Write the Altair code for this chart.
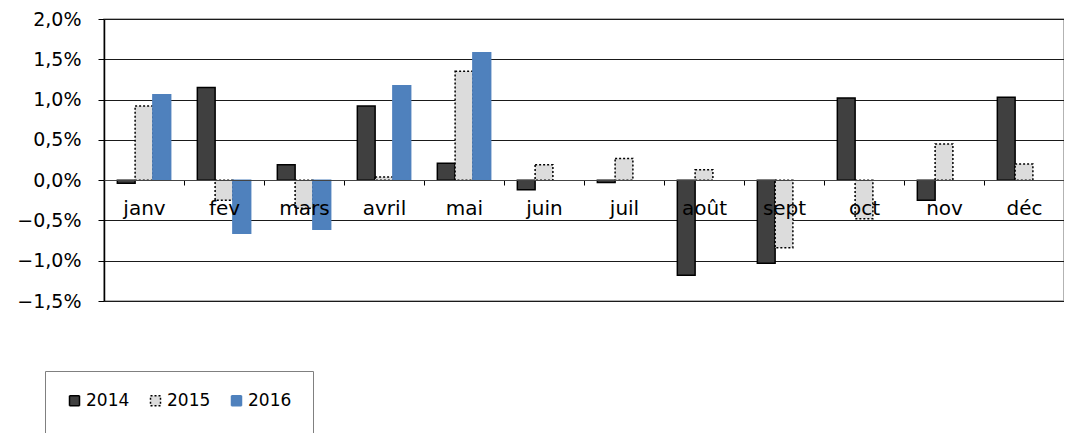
import altair as alt
import pandas as pd

months = ["janv", "fev", "mars", "avril", "mai", "juin", "juil", "août", "sept", "oct", "nov", "déc"]
years = ["2014", "2015", "2016"]
v2014 = [-0.04, 1.15, 0.19, 0.92, 0.21, -0.12, -0.03, -1.18, -1.03, 1.02, -0.25, 1.03]
v2015 = [0.92, -0.25, -0.35, 0.04, 1.35, 0.19, 0.27, 0.13, -0.84, -0.48, 0.45, 0.20]
v2016 = [1.06, -0.66, -0.61, 1.17, 1.58]
y_ticks = [-1.5, -1.0, -0.5, 0.0, 0.5, 1.0, 1.5, 2.0]

rows = []
for series, vals in zip(years, [v2014, v2015, v2016]):
    for m, v in zip(months, vals):
        rows.append({"month": m, "year": series, "value": v})
df = pd.DataFrame(rows)

FONT = "DejaVu Sans"

chart = alt.Chart(df).mark_bar(strokeWidth=1.5).encode(
    x=alt.X(
        "month:N",
        sort=months,
        scale=alt.Scale(domain=months, paddingInner=0, paddingOuter=0),
        axis=alt.Axis(
            title=None,
            offset=-121,
            tickBand="extent",
            tickSize=5,
            tickColor="#000",
            domainColor="#444",
            labelFont=FONT,
            labelFontSize=20,
            labelColor="#000",
            labelPadding=13,
            labelAngle=0,
            grid=False,
            zindex=1,
        ),
    ),
    xOffset=alt.XOffset("year:N", scale=alt.Scale(domain=years, paddingOuter=0.75, paddingInner=0)),
    y=alt.Y(
        "value:Q",
        scale=alt.Scale(domain=[-1.5, 2.0], nice=False, zero=False),
        axis=alt.Axis(
            title=None,
            values=y_ticks,
            labelExpr="replace(format(datum.value, '.1f'), '.', ',') + '%'",
            labelFont=FONT,
            labelFontSize=19,
            labelColor="#000",
            labelPadding=17,
            labelFlush=False,
            tickSize=6,
            tickColor="#000",
            domainColor="#000",
            domainWidth=1.5,
            grid=True,
            gridColor="#1a1a1a",
            gridWidth=1,
        ),
    ),
    color=alt.Color(
        "year:N",
        title=" ",
        scale=alt.Scale(domain=years, range=["#404040", "#dcdcdc", "#4f81bd"]),
    ),
    stroke=alt.Stroke(
        "year:N",
        title=" ",
        scale=alt.Scale(domain=years, range=["#000000", "#000000", "#4f81bd"]),
    ),
    strokeDash=alt.StrokeDash(
        "year:N",
        title=" ",
        scale=alt.Scale(domain=years, range=[[1, 0], [2, 2], [1, 0]]),
    ),
).properties(
    width=960,
    height=282,
    autosize=alt.AutoSizeParams(type="none"),
    padding={"left": 96, "top": 11, "right": 0, "bottom": 132},
).configure_view(
    stroke="#9a9a9a", strokeWidth=1.5
).configure_legend(
    orient="none",
    legendX=-59,
    legendY=352,
    direction="horizontal",
    columns=3,
    columnPadding=17,
    padding=21,
    strokeColor="#808080",
    fillColor="#ffffff",
    symbolType="square",
    symbolSize=100,
    symbolStrokeWidth=1.5,
    labelFont=FONT,
    labelFontSize=17,
    labelColor="#000",
    labelOffset=3,
    titleOrient="bottom",
    titleFontSize=18,
    titlePadding=8,
)

chart.save("out.html", embed_options={"renderer": "svg", "actions": False})
